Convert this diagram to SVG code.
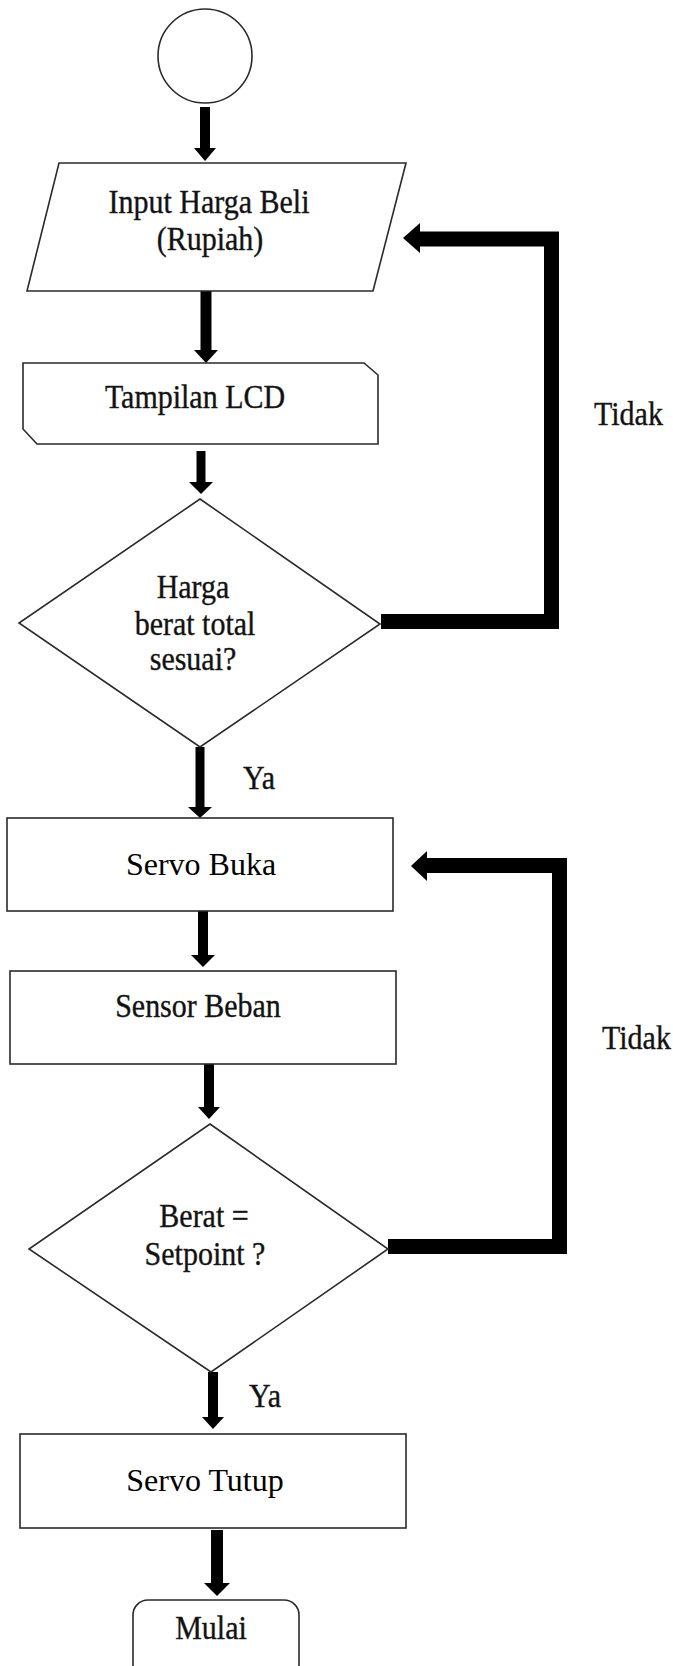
<svg xmlns="http://www.w3.org/2000/svg" width="673" height="1666" viewBox="0 0 673 1666" font-family="'Liberation Serif', 'Times New Roman', 'DejaVu Serif', serif">
<style>
text{font-family:'Liberation Serif','Times New Roman','DejaVu Serif',serif;font-size:30px;fill:#111}
.s{stroke:#222;stroke-width:0.35}
.shape{fill:#fff;stroke:#2a2a2a;stroke-width:1.6}
.t{text-anchor:middle}
.big{font-size:32px;fill:#000}
.line{fill:none;stroke:#000;stroke-linejoin:miter}
.head{fill:#000}
</style>
<rect width="673" height="1666" fill="#fff"/>
<g id="connectors">
  <line class="line" x1="205" y1="107" x2="205" y2="150" stroke-width="10"/>
  <polygon class="head" points="194,148 216,148 205,161"/>
  <line class="line" x1="206" y1="291" x2="206" y2="352" stroke-width="11"/>
  <polygon class="head" points="194,350 218,350 206,363"/>
  <line class="line" x1="201" y1="451" x2="201" y2="484" stroke-width="9"/>
  <polygon class="head" points="189,482 213,482 201,494"/>
  <line class="line" x1="200" y1="747" x2="200" y2="809" stroke-width="9"/>
  <polygon class="head" points="188,807 212,807 200,818"/>
  <line class="line" x1="203" y1="911" x2="203" y2="957" stroke-width="10"/>
  <polygon class="head" points="191,955 215,955 203,967"/>
  <line class="line" x1="209" y1="1064" x2="209" y2="1109" stroke-width="10"/>
  <polygon class="head" points="198,1107 220,1107 209,1119"/>
  <line class="line" x1="213" y1="1372" x2="213" y2="1419" stroke-width="10"/>
  <polygon class="head" points="202,1417 224,1417 213,1429"/>
  <line class="line" x1="217" y1="1530" x2="217" y2="1585" stroke-width="12"/>
  <polygon class="head" points="204,1583 230,1583 217,1596"/>
  <path class="line" d="M381,621.5 H551.5 V239 H418" stroke-width="15"/>
  <polygon class="head" points="403,238 420,223 420,253"/>
  <path class="line" d="M388,1246.5 H559.5 V865.5 H425" stroke-width="15"/>
  <polygon class="head" points="411,866 427,851 427,881"/>
  <text class="s" transform="translate(594,425) scale(1,1.1)">Tidak</text>
  <text class="s" transform="translate(243,789) scale(1,1.1)">Ya</text>
  <text class="s" transform="translate(602,1049) scale(1,1.1)">Tidak</text>
  <text class="s" transform="translate(249,1407) scale(1,1.1)">Ya</text>
</g>
<g id="start">
  <circle class="shape" cx="205" cy="56" r="47"/>
</g>
<g id="input">
  <polygon class="shape" points="59,163 406,163 373,291 27,291"/>
  <text class="t s" transform="translate(209,213) scale(1,1.1)">Input Harga Beli</text>
  <text class="t s" transform="translate(210,250) scale(1,1.1)">(Rupiah)</text>
</g>
<g id="display">
  <polygon class="shape" points="23,363 364,363 378,375 378,444 37,444 23,429"/>
  <text class="t s" transform="translate(195,408) scale(1,1.1)">Tampilan LCD</text>
</g>
<g id="decision1">
  <polygon class="shape" points="200,499 380,624 200,747 19,623"/>
  <text class="t s" transform="translate(193,598) scale(1,1.1)">Harga</text>
  <text class="t s" transform="translate(195,635) scale(1,1.1)">berat total</text>
  <text class="t s" transform="translate(193,670) scale(1,1.1)">sesuai?</text>
</g>
<g id="servo-buka">
  <rect class="shape" x="7" y="818" width="386" height="93"/>
  <text class="t big" x="201" y="875">Servo Buka</text>
</g>
<g id="sensor-beban">
  <rect class="shape" x="10" y="971" width="386" height="93"/>
  <text class="t s" transform="translate(198,1017) scale(1,1.1)">Sensor Beban</text>
</g>
<g id="decision2">
  <polygon class="shape" points="210,1124 388,1249 211,1372 29,1249"/>
  <text class="t s" transform="translate(204,1227) scale(1,1.1)">Berat =</text>
  <text class="t s" transform="translate(205,1265) scale(1,1.1)">Setpoint ?</text>
</g>
<g id="servo-tutup">
  <rect class="shape" x="20" y="1434" width="386" height="94"/>
  <text class="t big" x="205" y="1491">Servo Tutup</text>
</g>
<g id="end">
  <rect class="shape" x="133" y="1600" width="166" height="80" rx="15" ry="15"/>
  <text class="t s" transform="translate(211,1639) scale(1,1.1)">Mulai</text>
</g>
</svg>
